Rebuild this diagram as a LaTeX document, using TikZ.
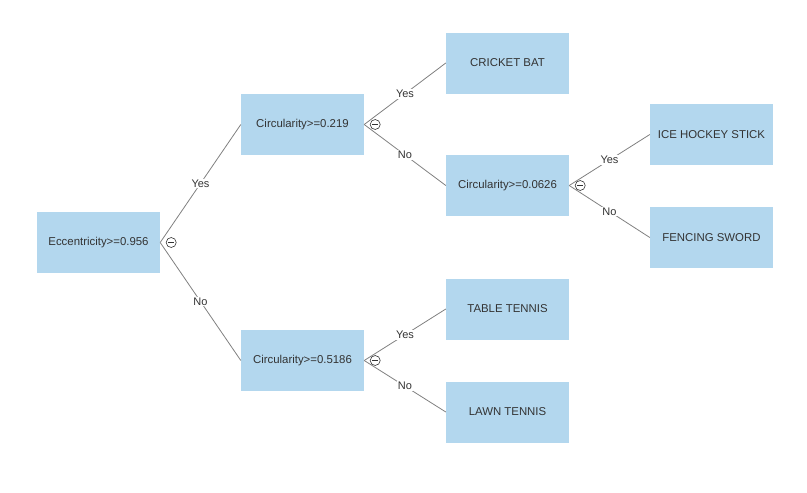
\documentclass[tikz,border=0pt]{standalone}
\usepackage{fontspec}
\setmainfont{Liberation Sans}
\definecolor{boxblue}{HTML}{B3D7EE}
\definecolor{txt}{HTML}{333333}
\definecolor{edge}{HTML}{808080}
\begin{document}
\begin{tikzpicture}[x=1pt,y=-1pt,
  tbox/.style={fill=boxblue,draw=none,minimum width=123pt,minimum height=61pt,inner sep=0pt,text=txt,font=\fontsize{11.4}{13}\selectfont},
  conn/.style={draw=edge,line width=0.8pt},
  lab/.style={fill=white,inner sep=1pt,text=txt,font=\fontsize{11}{13}\selectfont},
  tog/.style={circle,draw=txt,line width=0.6pt,minimum size=10pt,inner sep=0pt,fill=white}]
\useasboundingbox (0,0) rectangle (807,493);
\node[tbox] (root) at (98.5,242.5) {Eccentricity>=0.956};
\node[tbox] (c1) at (302.5,124.5) {Circularity>=0.219};
\node[tbox] (c2) at (302.5,360.5) {Circularity>=0.5186};
\node[tbox] (bat) at (507.5,63) {CRICKET BAT};
\node[tbox] (c3) at (507.5,185.5) {Circularity>=0.0626};
\node[tbox] (ice) at (711.5,134.5) {ICE HOCKEY STICK};
\node[tbox] (fen) at (711.5,237.5) {FENCING SWORD};
\node[tbox] (tt) at (507.5,309) {TABLE TENNIS};
\node[tbox] (lt) at (507.5,412) {LAWN TENNIS};
\draw[conn] (root.east) -- node[lab] {Yes} (c1.west);
\draw[conn] (root.east) -- node[lab] {No} (c2.west);
\draw[conn] (c1.east) -- node[lab] {Yes} (bat.west);
\draw[conn] (c1.east) -- node[lab] {No} (c3.west);
\draw[conn] (c3.east) -- node[lab] {Yes} (ice.west);
\draw[conn] (c3.east) -- node[lab] {No} (fen.west);
\draw[conn] (c2.east) -- node[lab] {Yes} (tt.west);
\draw[conn] (c2.east) -- node[lab] {No} (lt.west);
\foreach \n in {root,c1,c2,c3}{
  \node[tog] (t\n) at ([xshift=11pt]\n.east) {};
  \draw[txt,line width=0.6pt] ([xshift=-3pt]t\n.center) -- ([xshift=3pt]t\n.center);
}
\end{tikzpicture}
\end{document}
